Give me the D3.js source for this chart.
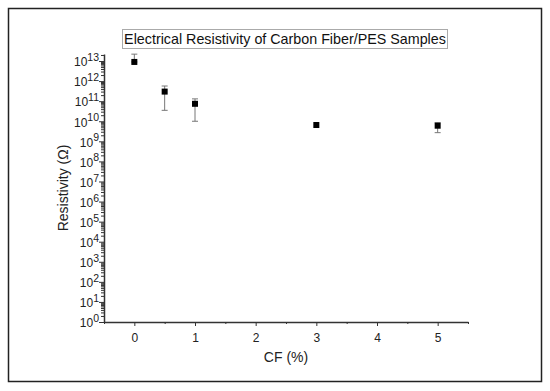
<!DOCTYPE html>
<html>
<head>
<meta charset="utf-8">
<script src="https://cdn.jsdelivr.net/npm/d3@7"></script>
<style>
    body { margin: 0; background: #fff; }
    svg { font-family: "Liberation Sans", Arial, sans-serif; }
</style>
</head>
<body>
<svg id="chart" width="550" height="391"></svg>
<script>
// data
var cfPercent = [0, 0.5, 1, 3, 5];
var resistivity = [9e12, 3.0e11, 7.4e10, 6.5e9, 6.0e9];
var errLow = [9e12, 3.5e10, 1.0e10, 6.5e9, 2.7e9];
var errHigh = [2.2e13, 5.7e11, 1.3e11, 6.5e9, 8.5e9];
var xTicks = [0, 1, 2, 3, 4, 5];
var yExponents = [0, 1, 2, 3, 4, 5, 6, 7, 8, 9, 10, 11, 12, 13];

var titleText = 'Electrical Resistivity of Carbon Fiber/PES Samples';

var svg = d3.select('#chart');

// outer frame
svg.append('rect')
    .attr('x', 8.5).attr('y', 8.5)
    .attr('width', 533).attr('height', 373)
    .attr('fill', 'none')
    .attr('stroke', '#222')
    .attr('stroke-width', 1.5);

var x = d3.scaleLinear().domain([-0.5, 5.5]).range([104, 468]);
var y = d3.scaleLog().domain([1, Math.pow(10, 13.35)]).range([322, 54]);

// x axis
var xAxis = svg.append('g')
    .attr('transform', 'translate(0,322)')
    .call(d3.axisBottom(x).tickValues(xTicks).tickSize(4).tickSizeOuter(0).tickFormat(d3.format('d')));
svg.append('g')
    .attr('transform', 'translate(0,322)')
    .call(d3.axisBottom(x).tickValues([-0.5, 0.5, 1.5, 2.5, 3.5, 4.5, 5.5]).tickSize(2).tickSizeOuter(0).tickFormat(''))
    .select('.domain').remove();

// y axis, majors at powers of ten and nine minors per decade
var majors = yExponents.map(function (e) { return Math.pow(10, e); });
var minors = [];
yExponents.forEach(function (e) {
    for (var k = 2; k <= 9; k++) {
        var v = k * Math.pow(10, e);
        if (v <= y.domain()[1]) minors.push(v);
    }
});
var yAxis = svg.append('g')
    .attr('transform', 'translate(104,0)')
    .call(d3.axisLeft(y).tickValues(majors).tickSize(5).tickSizeOuter(0).tickFormat(''));
svg.append('g')
    .attr('transform', 'translate(104,0)')
    .call(d3.axisLeft(y).tickValues(minors).tickSize(3).tickSizeOuter(0).tickFormat(''))
    .select('.domain').remove();

svg.selectAll('.domain').attr('stroke', '#333').attr('stroke-width', 1.5);
svg.selectAll('.tick line').attr('stroke', '#333');
svg.selectAll('g').attr('font-family', null);

xAxis.selectAll('.tick text')
    .attr('font-size', '12px')
    .attr('fill', '#222')
    .attr('dy', '1.1em');

// superscript tick labels
yAxis.selectAll('.tick').each(function (d) {
    var t = d3.select(this).append('text')
        .attr('x', -5)
        .attr('dy', '0.4em')
        .attr('text-anchor', 'end')
        .attr('fill', '#222')
        .attr('font-size', '12px');
    t.append('tspan').text('10');
    t.append('tspan')
        .attr('dy', '-0.5em')
        .attr('font-size', '10.5px')
        .text(Math.round(Math.log10(d)));
});

// axis titles
svg.append('text')
    .attr('x', 286).attr('y', 362)
    .attr('text-anchor', 'middle')
    .attr('font-size', '14px')
    .attr('fill', '#222')
    .text('CF (%)');
svg.append('text')
    .attr('transform', 'translate(68,188) rotate(-90)')
    .attr('text-anchor', 'middle')
    .attr('font-size', '14px')
    .attr('fill', '#222')
    .text('Resistivity (\u03A9)');

// title box
svg.append('rect')
    .attr('x', 122.5).attr('y', 29.5)
    .attr('width', 325).attr('height', 19)
    .attr('fill', '#fff')
    .attr('stroke', '#aaa');
svg.append('text')
    .attr('x', 285).attr('y', 44)
    .attr('text-anchor', 'middle')
    .attr('font-size', '14.3px')
    .attr('fill', '#111')
    .text(titleText);

// error bars
var bars = svg.append('g').attr('stroke', '#777').attr('stroke-width', 1);
cfPercent.forEach(function (c, i) {
    if (errHigh[i] === errLow[i]) return;
    var cx = x(c);
    bars.append('line').attr('x1', cx).attr('x2', cx).attr('y1', y(errLow[i])).attr('y2', y(errHigh[i]));
    bars.append('line').attr('x1', cx - 3).attr('x2', cx + 3).attr('y1', y(errLow[i])).attr('y2', y(errLow[i]));
    bars.append('line').attr('x1', cx - 3).attr('x2', cx + 3).attr('y1', y(errHigh[i])).attr('y2', y(errHigh[i]));
});

// points
svg.append('g').selectAll('rect')
    .data(cfPercent)
    .enter().append('rect')
    .attr('x', function (d) { return x(d) - 3; })
    .attr('y', function (d, i) { return y(resistivity[i]) - 3; })
    .attr('width', 6).attr('height', 6)
    .attr('fill', '#000');
</script>
</body>
</html>
